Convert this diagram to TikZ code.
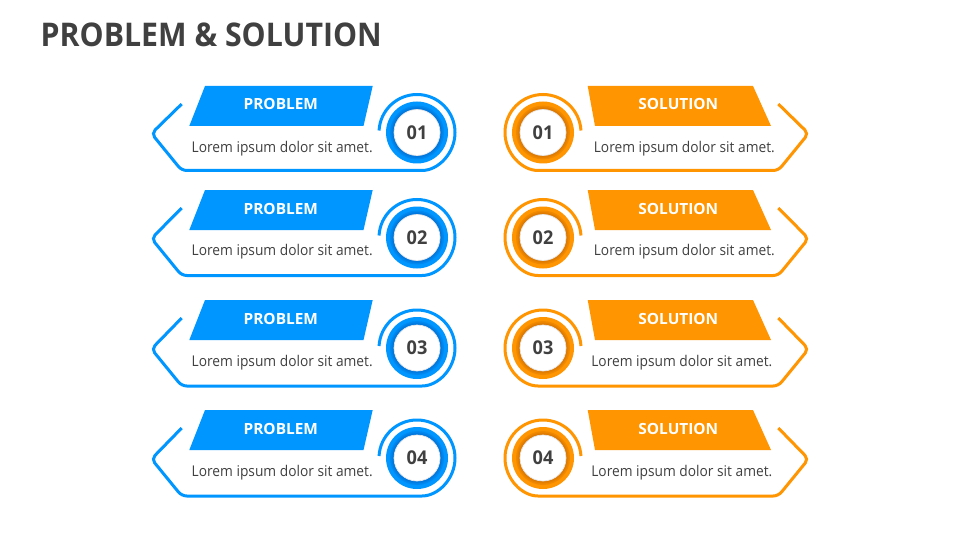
\documentclass[tikz,border=0pt]{standalone}
\usepackage{graphicx}
\usepackage{fontspec}
\setmainfont{Open Sans}
\definecolor{pblue}{RGB}{0,150,255}
\definecolor{pbluedk}{RGB}{0,100,200}
\definecolor{porange}{RGB}{255,149,0}
\definecolor{porangedk}{RGB}{200,105,0}
\definecolor{txtgray}{RGB}{64,64,64}
\tikzset{
  outl/.style={line width=3pt, rounded corners=5pt},
  bantext/.style={font=\bfseries\fontsize{15.4}{18}\selectfont, text=white, anchor=base, inner sep=0pt},
  lorem/.style={font=\fontsize{14.8}{18}\selectfont, text=txtgray, anchor=base, inner sep=0pt},
  numtext/.style={font=\bfseries\fontsize{19}{22}\selectfont, text=txtgray, inner sep=0pt},
  titletext/.style={font=\bfseries\fontsize{32.6}{38}\selectfont, text=txtgray, anchor=base west, inner sep=0pt},
  whitedisc/.style={fill=white, draw=black!10, line width=0.7pt},
  shadowstep/.style={fill=#1, fill opacity=0.28}
}
\newcommand\loremtxt{\resizebox{181pt}{\height}{Lorem ipsum dolor sit amet.}}
% ring with soft inner shadow: #1 centre, #2 main colour, #3 dark colour
\newcommand\ringdisc[3]{%
  \fill[#2] #1 circle[radius=31];
  \fill[shadowstep=#3] #1 circle[radius=27];
  \fill[shadowstep=#3] #1 circle[radius=25.5];
  \fill[shadowstep=#3] #1 circle[radius=24.3];
  \fill[whitedisc] #1 circle[radius=23];
}
% #1 banner top, #2 circle centre y, #3 lorem baseline, #4 number, #5 name, #6 banner baseline
\newcommand\probrow[6]{%
  \fill[pblue] (205,#1) -- (372.7,#1) -- (363.5,#1+40) -- (189.3,#1+40) -- cycle;
  \node[bantext] (pb#5) at (280.8,#6) {PROBLEM};
  \draw[pblue,outl] (181.7,#1+18) -- (151.5,#2+1) -- (181.7,#2+38) -- (417,#2+38) arc[start angle=90,end angle=-177,radius=38];
  \ringdisc{(417,#2)}{pblue}{pbluedk}
  \node[numtext] (pn#5) at (417,#2) {\resizebox{20.7pt}{\height}{#4}};
  \node[lorem] (pl#5) at (282.2,#3) {\loremtxt};
}
% #1 banner top, #2 circle centre y, #3 lorem baseline, #4 number, #5 name, #6 banner baseline, #7 lorem x
\newcommand\solrow[7]{%
  \fill[porange] (587.7,#1) -- (753,#1) -- (771,#1+40) -- (595,#1+40) -- cycle;
  \node[bantext] (sb#5) at (678.3,#6) {SOLUTION};
  \draw[porange,outl] (778.3,#1+18) -- (808.5,#2+1) -- (778.3,#2+38) -- (543,#2+38) arc[start angle=90,end angle=357,radius=38];
  \ringdisc{(543,#2)}{porange}{porangedk}
  \node[numtext] (sn#5) at (543,#2) {\resizebox{20.7pt}{\height}{#4}};
  \node[lorem] (sl#5) at (#7,#3) {\loremtxt};
}
\begin{document}
\begin{tikzpicture}[x=1pt,y=1pt,yscale=-1]
  \useasboundingbox[fill=white] (0,0) rectangle (960,540);
  \node[titletext] (title) at (40.5,46.3) {\resizebox{341pt}{\height}{PROBLEM \& SOLUTION}};
  \probrow{86}{132.5}{152.5}{01}{a}{109.5}
  \probrow{190}{237.5}{255}{02}{b}{214.8}
  \probrow{300}{348}{366.5}{03}{c}{324.8}
  \probrow{410}{458}{476.5}{04}{d}{434.8}
  \solrow{86}{132.5}{152.5}{01}{a}{109.5}{684.3}
  \solrow{190}{237.5}{255}{02}{b}{214.8}{684.3}
  \solrow{300}{348}{366.5}{03}{c}{324.8}{681.8}
  \solrow{410}{458}{476.5}{04}{d}{434.8}{681.8}
\end{tikzpicture}
\end{document}
